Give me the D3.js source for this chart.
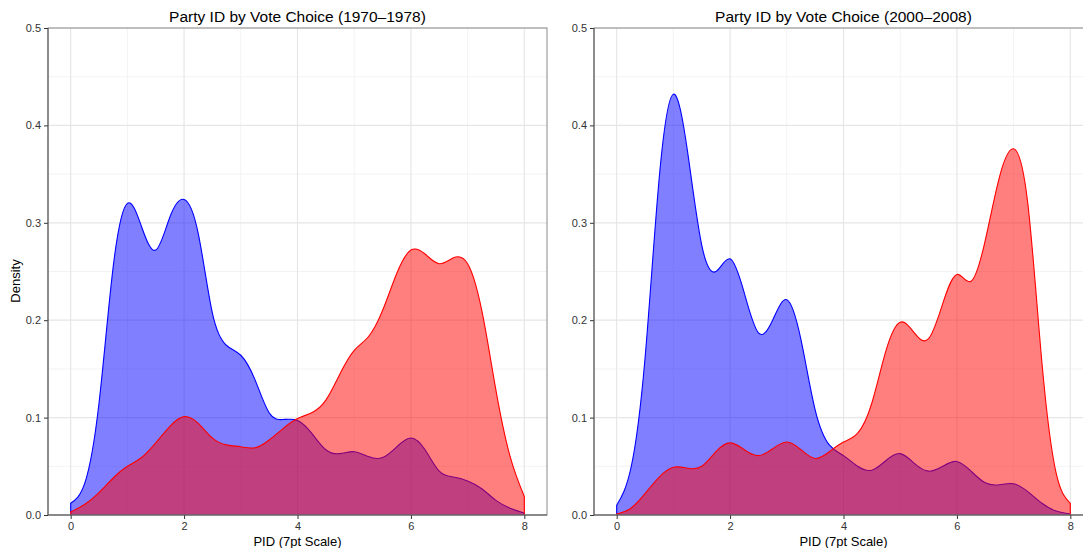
<!DOCTYPE html>
<meta charset="utf-8">
<head>
  <title>Party ID by Vote Choice</title>
  <script src="https://cdnjs.cloudflare.com/ajax/libs/d3/7.8.5/d3.min.js"></script>
</head>
<style>
  body { margin: 0; background: white; font-family: "Liberation Sans", Arial, sans-serif; }
  .tick text { font-size: 11px; fill: #333; }
</style>
<body>
<div id="chart"></div>
<script>
  // PID grid (7pt scale, 0..8 by 0.25)
  var pid = d3.range(0, 8.001, 0.25);

  var titles = ["Party ID by Vote Choice (1970\u20131978)", "Party ID by Vote Choice (2000\u20132008)"];

  // 1970-1978 densities
  var dem70 = [0.012, 0.033, 0.115, 0.255, 0.320, 0.296, 0.272, 0.306, 0.324, 0.289, 0.207, 0.174, 0.164,
               0.139, 0.105, 0.098, 0.097, 0.084, 0.067, 0.063, 0.065, 0.060, 0.059, 0.070, 0.079, 0.067,
               0.045, 0.039, 0.035, 0.027, 0.015, 0.007, 0.002];
  var rep70 = [0.003, 0.011, 0.023, 0.038, 0.050, 0.059, 0.074, 0.091, 0.101, 0.094, 0.079, 0.072, 0.070,
               0.069, 0.077, 0.089, 0.099, 0.105, 0.118, 0.145, 0.169, 0.183, 0.210, 0.248, 0.272, 0.268,
               0.258, 0.264, 0.258, 0.210, 0.128, 0.060, 0.019];

  // 2000-2008 densities
  var dem00 = [0.010, 0.048, 0.161, 0.346, 0.432, 0.373, 0.277, 0.250, 0.263, 0.228, 0.187, 0.200, 0.221,
               0.180, 0.108, 0.072, 0.061, 0.050, 0.046, 0.056, 0.063, 0.053, 0.045, 0.050, 0.055, 0.045,
               0.033, 0.031, 0.032, 0.024, 0.012, 0.004, 0.001];
  var rep00 = [0.001, 0.007, 0.022, 0.039, 0.049, 0.048, 0.050, 0.065, 0.074, 0.067, 0.061, 0.068, 0.075,
               0.067, 0.058, 0.065, 0.075, 0.084, 0.115, 0.169, 0.198, 0.187, 0.181, 0.217, 0.247, 0.240,
               0.282, 0.347, 0.376, 0.320, 0.156, 0.043, 0.012];

  var xTicks = [0, 2, 4, 6, 8];
  var xMinor = [1, 3, 5, 7];
  var yTicks = [0, 0.1, 0.2, 0.3, 0.4, 0.5];
  var yMinor = [0.05, 0.15, 0.25, 0.35, 0.45];

  var WIDTH = 1083, HEIGHT = 548;
  var svg = d3.select("#chart").append("svg")
    .attr("width", WIDTH)
    .attr("height", HEIGHT);

  var panels = [
    { left: 48, dem: dem70, rep: rep70, title: titles[0], ylab: true },
    { left: 594, dem: dem00, rep: rep00, title: titles[1], ylab: false }
  ];
  var pw = 499, plotTop = 28, plotBottom = 515;
  var smooth = d3.curveNatural;

  panels.forEach(function(p) {
    var x = d3.scaleLinear().domain([-0.4, 8.4]).range([p.left, p.left + pw]);
    var y = d3.scaleLinear().domain([0, 0.5]).range([plotBottom, plotTop]);
    var g = svg.append("g");

    // grid
    g.selectAll(".minx").data(xMinor).enter().append("line")
      .attr("x1", d => x(d)).attr("x2", d => x(d)).attr("y1", plotTop).attr("y2", plotBottom)
      .attr("stroke", "#f3f3f3").attr("stroke-width", 1);
    g.selectAll(".miny").data(yMinor).enter().append("line")
      .attr("y1", d => y(d)).attr("y2", d => y(d)).attr("x1", p.left).attr("x2", p.left + pw)
      .attr("stroke", "#f3f3f3").attr("stroke-width", 1);
    g.selectAll(".majx").data(xTicks).enter().append("line")
      .attr("x1", d => x(d)).attr("x2", d => x(d)).attr("y1", plotTop).attr("y2", plotBottom)
      .attr("stroke", "#e6e6e6").attr("stroke-width", 1.2);
    g.selectAll(".majy").data(yTicks).enter().append("line")
      .attr("y1", d => y(d)).attr("y2", d => y(d)).attr("x1", p.left).attr("x2", p.left + pw)
      .attr("stroke", "#e6e6e6").attr("stroke-width", 1.2);

    var area = d3.area()
      .x((d, i) => x(pid[i]))
      .y0(y(0))
      .y1(d => y(d))
      .curve(smooth);

    // upper outline plus the vertical edges at both ends
    var outline = function(vals) {
      var curve = d3.line().x((d, i) => x(pid[i])).y(d => y(d)).curve(smooth)(vals);
      return "M" + x(pid[0]) + "," + y(0) + curve.replace(/^M/, "L") +
        "L" + x(pid[pid.length - 1]) + "," + y(0);
    };

    // Democrats
    g.append("path").attr("d", area(p.dem)).attr("fill", "blue").attr("fill-opacity", 0.5);
    g.append("path").attr("d", outline(p.dem)).attr("fill", "none").attr("stroke", "blue").attr("stroke-width", 1.1);
    // Republicans
    g.append("path").attr("d", area(p.rep)).attr("fill", "red").attr("fill-opacity", 0.5);
    g.append("path").attr("d", outline(p.rep)).attr("fill", "none").attr("stroke", "red").attr("stroke-width", 1.1);

    // border
    g.append("rect")
      .attr("x", p.left).attr("y", plotTop).attr("width", pw).attr("height", plotBottom - plotTop)
      .attr("fill", "none").attr("stroke", "#8a8a8a").attr("stroke-width", 1);

    // axes
    var xAxis = d3.axisBottom(x).tickValues(xTicks).tickSize(4).tickPadding(3).tickFormat(d3.format("d"));
    var yAxis = d3.axisLeft(y).tickValues(yTicks).tickSize(4).tickPadding(3).tickFormat(d3.format(".1f"));
    var gx = g.append("g").attr("transform", "translate(0," + plotBottom + ")").call(xAxis);
    var gy = g.append("g").attr("transform", "translate(" + p.left + ",0)").call(yAxis);
    [gx, gy].forEach(function(a) {
      a.select(".domain").remove();
      a.selectAll(".tick line").attr("stroke", "#333");
      a.selectAll(".tick text").style("font-family", "Liberation Sans, Arial, sans-serif");
    });
    g.append("line").attr("x1", p.left).attr("x2", p.left).attr("y1", plotTop).attr("y2", plotBottom)
      .attr("stroke", "#555").attr("stroke-width", 1);
    g.append("line").attr("x1", p.left).attr("x2", p.left + pw).attr("y1", plotBottom).attr("y2", plotBottom)
      .attr("stroke", "#555").attr("stroke-width", 1);

    // labels
    g.append("text")
      .attr("x", p.left + pw / 2).attr("y", 22)
      .attr("text-anchor", "middle")
      .style("font-size", "15.5px").style("fill", "#000")
      .text(p.title);
    g.append("text")
      .attr("x", p.left + pw / 2).attr("y", 546)
      .attr("text-anchor", "middle")
      .style("font-size", "13px").style("fill", "#000")
      .text("PID (7pt Scale)");
    if (p.ylab) {
      g.append("text")
        .attr("transform", "translate(20,281) rotate(-90)")
        .attr("text-anchor", "middle")
        .style("font-size", "13px").style("fill", "#000")
        .text("Density");
    }
  });
</script>
</body>
